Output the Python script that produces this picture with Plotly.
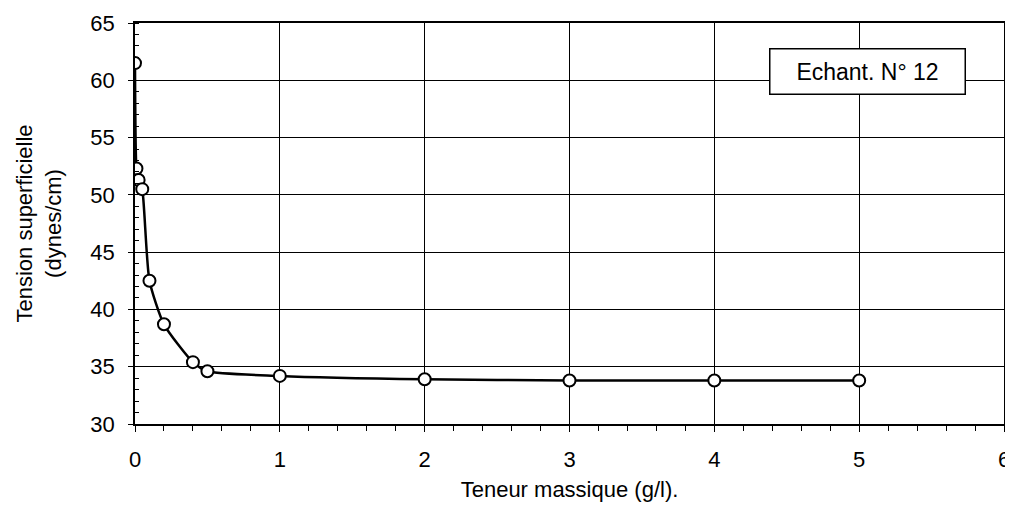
import plotly.graph_objects as go

teneur = [0, 0.01, 0.025, 0.05, 0.1, 0.2, 0.4, 0.5, 1, 2, 3, 4, 5]
tension = [61.5, 52.3, 51.3, 50.5, 42.5, 38.7, 35.4, 34.6, 34.2, 33.9, 33.8, 33.8, 33.8]

fig = go.Figure()
fig.add_trace(go.Scatter(
    x=teneur, y=tension, mode="lines+markers",
    line=dict(color="black", width=2.5, shape="spline", smoothing=0.6),
    marker=dict(symbol="circle", size=12, color="white", line=dict(color="black", width=2)),
    showlegend=False,
))

fig.add_annotation(
    x=5.06, y=60.8, xref="x", yref="y", text="Echant. N° 12", showarrow=False,
    font=dict(family="Liberation Sans, Arial", size=23, color="black"),
    width=176, height=26,
    bgcolor="white", bordercolor="black", borderwidth=1.5, borderpad=9,
)

font = dict(family="Liberation Sans, Arial", size=22, color="black")
fig.update_layout(
    width=1005, height=500,
    margin=dict(l=127, r=9, t=15, b=84),
    paper_bgcolor="white", plot_bgcolor="white",
    font=font,
    xaxis=dict(
        range=[0, 6], dtick=1, tick0=0, showgrid=True, gridcolor="black", gridwidth=1,
        showline=True, linecolor="black", linewidth=1.5, mirror=True, automargin=False,
        ticks="outside", ticklen=6, tickcolor="black", zeroline=False,
        ticklabelstandoff=9,
        minor=dict(dtick=0.2, ticks="outside", ticklen=5, tickcolor="black", showgrid=False),
        title=dict(text="Teneur massique (g/l).", font=font, standoff=10),
        tickfont=font,
    ),
    yaxis=dict(
        range=[30, 65], dtick=5, tick0=30, showgrid=True, gridcolor="black", gridwidth=1,
        showline=True, linecolor="black", linewidth=1.5, mirror=True, automargin=False,
        ticks="outside", ticklen=5, tickcolor="black", zeroline=False,
        ticklabelstandoff=9,
        minor=dict(dtick=1, ticks="inside", ticklen=4, tickcolor="black", showgrid=False),
        title=dict(text="Tension superficielle<br>(dynes/cm)", font=font, standoff=23),
        tickfont=font,
    ),
)

fig.write_html("out.html")
